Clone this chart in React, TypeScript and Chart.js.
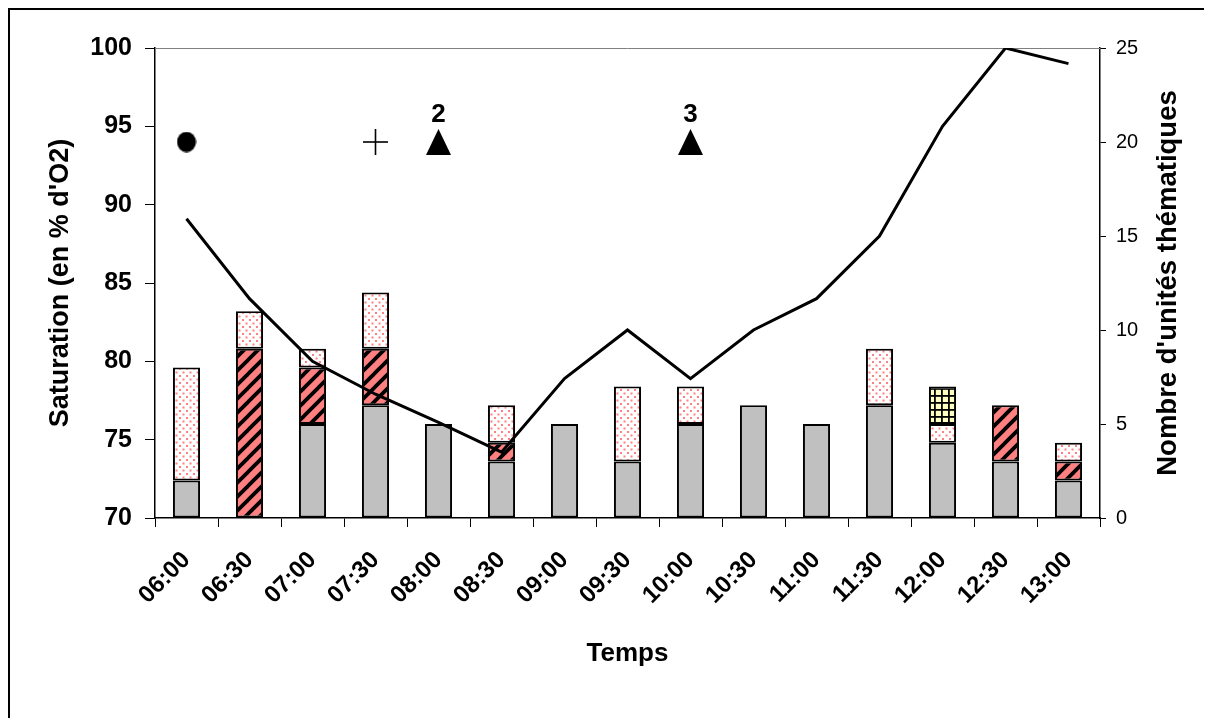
import React, { useEffect, useRef } from "react";
import { Chart, registerables } from "chart.js";

Chart.register(...registerables);

const FONT = "'Liberation Sans', Arial, Helvetica, sans-serif";

// ---- data ----
const categories = [
  "06:00", "06:30", "07:00", "07:30", "08:00", "08:30", "09:00", "09:30",
  "10:00", "10:30", "11:00", "11:30", "12:00", "12:30", "13:00",
];
// Saturation (% O2), left axis
const saturation = [89.1, 84.0, 80.0, 77.9, 76.1, 74.2, 78.9, 82.0, 78.9, 82.0, 84.0, 88.0, 95.0, 100.0, 99.0];
// Thematic units (stacked bars), right axis
const unitsGray = [2, 0, 5, 6, 5, 3, 5, 3, 5, 6, 5, 6, 4, 3, 2];
const unitsHatched = [0, 9, 3, 3, 0, 1, 0, 0, 0, 0, 0, 0, 0, 3, 1];
const unitsDotted = [6, 2, 1, 3, 0, 2, 0, 4, 2, 0, 0, 3, 1, 0, 1];
const unitsGrid = [0, 0, 0, 0, 0, 0, 0, 0, 0, 0, 0, 0, 2, 0, 0];
// Event markers (right-axis value)
const circleMarker = [20, null, null, null, null, null, null, null, null, null, null, null, null, null, null];
const crossMarker = [null, null, null, 20, null, null, null, null, null, null, null, null, null, null, null];
const triangleMarker = [null, null, null, null, 20, null, null, null, 20, null, null, null, null, null, null];
const triangleLabels = ["", "", "", "", "2", "", "", "", "3", "", "", "", "", "", ""];
// axis settings
const leftMin = 70;
const leftMax = 100;
const leftStep = 5;
const rightMin = 0;
const rightMax = 25;
const rightStep = 5;

const leftTitle = "Saturation (en % d'O2)";
const rightTitle = "Nombre d'unités thématiques";
const xTitle = "Temps";

function tile(w: number, h: number, draw: (g: CanvasRenderingContext2D) => void) {
  const c = document.createElement("canvas");
  c.width = w;
  c.height = h;
  const g = c.getContext("2d")!;
  draw(g);
  return c;
}

function pattern(c: HTMLCanvasElement) {
  const ctx = document.createElement("canvas").getContext("2d")!;
  return ctx.createPattern(c, "repeat")!;
}

function zeroToNull(a: number[]) {
  return a.map((v) => (v === 0 ? null : v));
}

export default function App() {
  const ref = useRef<HTMLCanvasElement | null>(null);

  useEffect(() => {
    if (!ref.current) return;

    const hatch = pattern(
      tile(14, 14, (g) => {
        g.fillStyle = "#FF8080";
        g.fillRect(0, 0, 14, 14);
        g.strokeStyle = "#000";
        g.lineWidth = 3.8;
        g.lineCap = "square";
        for (const off of [-14, 0, 14]) {
          g.beginPath();
          g.moveTo(off, 14);
          g.lineTo(off + 14, 0);
          g.stroke();
        }
      })
    );
    const dots = pattern(
      tile(7, 7, (g) => {
        g.fillStyle = "#FFFFFF";
        g.fillRect(0, 0, 7, 7);
        g.fillStyle = "#FF8080";
        g.fillRect(1, 1, 2, 2);
        g.fillRect(4.5, 4.5, 2, 2);
      })
    );
    const grid = pattern(
      tile(7, 7, (g) => {
        g.fillStyle = "#FFFFC0";
        g.fillRect(0, 0, 7, 7);
        g.fillStyle = "#000";
        g.fillRect(0, 0, 7, 1.8);
        g.fillRect(0, 0, 1.8, 7);
      })
    );

    const circleImg = tile(20, 21, (g) => {
      g.fillStyle = "#000";
      g.beginPath();
      g.ellipse(10, 10.5, 9.5, 10.3, 0, 0, Math.PI * 2);
      g.fill();
    });
    const triImg = tile(25, 26, (g) => {
      g.fillStyle = "#000";
      g.beginPath();
      g.moveTo(12.5, 0);
      g.lineTo(25, 26);
      g.lineTo(0, 26);
      g.closePath();
      g.fill();
    });
    const crossImg = tile(25, 26, (g) => {
      g.fillStyle = "#000";
      g.fillRect(0, 12.2, 25, 1.6);
      g.fillRect(11.7, 0, 1.6, 26);
    });

    const barCommon = {
      type: "bar" as const,
      yAxisID: "yR",
      stack: "units",
      borderColor: "#000",
      borderWidth: 2,
      borderSkipped: false as const,
      barPercentage: 0.43,
      categoryPercentage: 1.0,
      order: 2,
    };

    const extras = {
      id: "extras",
      beforeDatasetsDraw(chart: any) {
        const { ctx, chartArea } = chart;
        ctx.save();
        ctx.strokeStyle = "#808080";
        ctx.lineWidth = 1;
        ctx.beginPath();
        ctx.moveTo(chartArea.left, chartArea.top + 0.5);
        ctx.lineTo(chartArea.right, chartArea.top + 0.5);
        ctx.stroke();
        ctx.restore();
      },
      afterDatasetsDraw(chart: any) {
        const { ctx } = chart;
        const meta = chart.getDatasetMeta(6);
        ctx.save();
        ctx.fillStyle = "#000";
        ctx.font = `bold 26px ${FONT}`;
        ctx.textAlign = "center";
        ctx.textBaseline = "alphabetic";
        meta.data.forEach((pt: any, i: number) => {
          if (triangleLabels[i]) ctx.fillText(triangleLabels[i], pt.x, pt.y - 20);
        });
        ctx.restore();
      },
      afterDraw(chart: any) {
        const { ctx, chartArea } = chart;
        ctx.save();
        ctx.translate(1158, (chartArea.top + chartArea.bottom) / 2);
        ctx.rotate(-Math.PI / 2);
        ctx.fillStyle = "#000";
        ctx.font = `bold 27.5px ${FONT}`;
        ctx.textAlign = "center";
        ctx.textBaseline = "middle";
        ctx.fillText(rightTitle, 0, 0);
        ctx.restore();
      },
    };

    const chart = new Chart(ref.current, {
      type: "bar",
      data: {
        labels: categories,
        datasets: [
          {
            type: "line",
            label: "Saturation",
            data: saturation,
            yAxisID: "yL",
            borderColor: "#000",
            borderWidth: 3,
            pointRadius: 0,
            tension: 0,
            fill: false,
            order: 0,
          } as any,
          { ...barCommon, label: "gris", data: zeroToNull(unitsGray), backgroundColor: "#C0C0C0" } as any,
          { ...barCommon, label: "hachuré", data: zeroToNull(unitsHatched), backgroundColor: hatch } as any,
          { ...barCommon, label: "pointillé", data: zeroToNull(unitsDotted), backgroundColor: dots } as any,
          { ...barCommon, label: "quadrillé", data: zeroToNull(unitsGrid), backgroundColor: grid } as any,
          {
            type: "line",
            label: "rond",
            data: circleMarker,
            yAxisID: "yM",
            showLine: false,
            pointStyle: circleImg,
            pointRadius: 10,
            order: 0,
          } as any,
          {
            type: "line",
            label: "triangle",
            data: triangleMarker,
            yAxisID: "yM",
            showLine: false,
            pointStyle: triImg,
            pointRadius: 10,
            order: 0,
          } as any,
          {
            type: "line",
            label: "croix",
            data: crossMarker,
            yAxisID: "yM",
            showLine: false,
            pointStyle: crossImg,
            pointRadius: 10,
            order: 0,
          } as any,
        ],
      },
      options: {
        responsive: false,
        animation: false,
        devicePixelRatio: 1,
        layout: { padding: { top: 38, left: 0, right: 0, bottom: 0 } },
        plugins: {
          legend: { display: false },
          tooltip: { enabled: false },
        },
        scales: {
          x: {
            type: "category",
            stacked: true,
            offset: true,
            grid: {
              offset: true,
              drawOnChartArea: false,
              color: "#000",
              tickLength: 9,
              lineWidth: 1,
            },
            border: { color: "#000", width: 1.5 },
            ticks: {
              color: "#000",
              font: { family: FONT, size: 24, weight: "bold" },
              minRotation: 45,
              maxRotation: 45,
              autoSkip: false,
              padding: 19,
            },
            title: {
              display: true,
              text: xTitle,
              color: "#000",
              font: { family: FONT, size: 26, weight: "bold" },
              padding: { top: 0, bottom: 49 },
            },
            afterFit: (s: any) => {
              s.height = 200;
            },
          },
          yL: {
            position: "left",
            min: leftMin,
            max: leftMax,
            ticks: {
              stepSize: leftStep,
              color: "#000",
              font: { family: FONT, size: 25, weight: "bold" },
              padding: 13,
            },
            grid: { drawOnChartArea: false, tickLength: 10, color: "#000" },
            border: { color: "#000", width: 1.5 },
            title: {
              display: true,
              text: leftTitle,
              color: "#000",
              font: { family: FONT, size: 27, weight: "bold" },
              padding: { top: 34, bottom: 0 },
            },
            afterFit: (s: any) => {
              s.width = 145;
            },
          },
          yR: {
            position: "right",
            stacked: true,
            min: rightMin,
            max: rightMax,
            ticks: {
              stepSize: rightStep,
              color: "#000",
              font: { family: FONT, size: 20 },
              padding: 10,
            },
            grid: { drawOnChartArea: false, tickLength: 6, color: "#000" },
            border: { color: "#000", width: 1.5 },
            afterFit: (s: any) => {
              s.width = 112;
            },
          },
          yM: {
            display: false,
            min: rightMin,
            max: rightMax,
          },
        } as any,
      },
      plugins: [extras],
    });

    return () => chart.destroy();
  }, []);

  return (
    <div
      style={{
        width: 1202,
        height: 708,
        borderTop: "2px solid #000",
        borderLeft: "2px solid #000",
        background: "#fff",
      }}
    >
      <canvas ref={ref} width={1202} height={708} style={{ display: "block" }} />
    </div>
  );
}
